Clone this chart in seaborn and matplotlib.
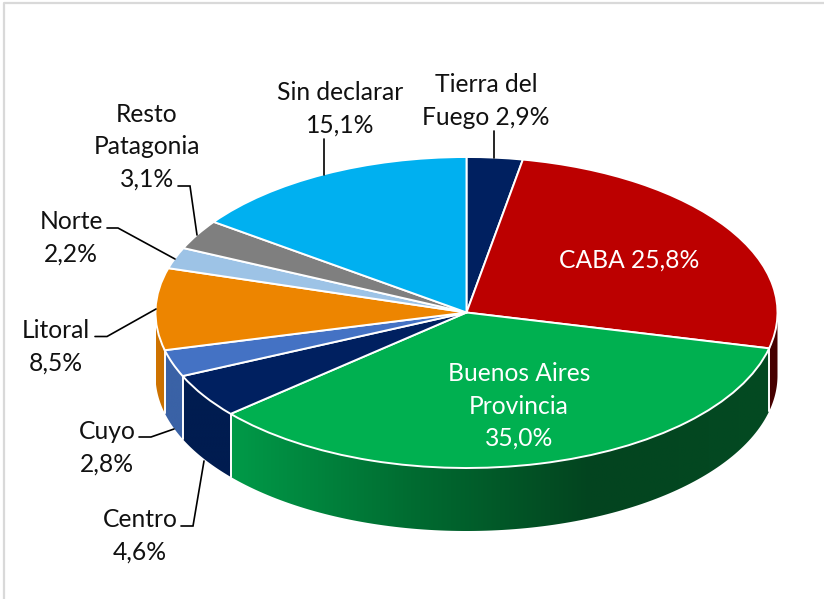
import matplotlib
matplotlib.use("Agg")
import matplotlib.pyplot as plt
import numpy as np
import seaborn as sns
from matplotlib.lines import Line2D
from matplotlib.patches import Polygon
from matplotlib.transforms import Affine2D

# valores
regiones = ["Tierra del Fuego", "CABA", "Buenos Aires Provincia", "Centro", "Cuyo",
            "Litoral", "Norte", "Resto Patagonia", "Sin declarar"]
valores = [2.9, 25.8, 35.0, 4.6, 2.8, 8.5, 2.2, 3.1, 15.1]
etiquetas = ["Tierra del\nFuego 2,9%", "CABA 25,8%", "Buenos Aires\nProvincia\n35,0%",
             "Centro\n4,6%", "Cuyo\n2,8%", "Litoral\n8,5%", "Norte\n2,2%",
             "Resto\nPatagonia\n3,1%", "Sin declarar\n15,1%"]

colores = ["#002060", "#BC0000", "#00B050", "#002060", "#4472C4",
           "#ED8500", "#9DC3E6", "#7F7F7F", "#00B0F0"]
# degradado del lateral, de izquierda a derecha
laterales = [["#001C50", "#001C50"], ["#470000", "#470000"],
             ["#009A48", "#006C31", "#03441F", "#034A22"],
             ["#001C50", "#001C50"], ["#3A62A6", "#3A62A6"],
             ["#D07400", "#C56E00"], ["#8AABCA", "#8AABCA"],
             ["#6E6E6E", "#6E6E6E"], ["#0098D0", "#0098D0"]]

# posicion de cada texto en pixeles (centro x, centro y) y color
pos_texto = [(486, 101), (629, 260), (519, 406), (140, 536), (107, 448),
             (56, 347), (71, 238), (147, 147), (340, 109)]
color_texto = ["#111111", "white", "white", "#111111", "#111111",
               "#111111", "#111111", "#111111", "#111111"]
guias = [[(494, 131), (494, 158)],
         [(181, 526), (193, 526), (204, 461)],
         [(139, 437), (151, 437), (174, 429)],
         [(95, 336.5), (107, 336.5), (156, 309)],
         [(107, 228), (118, 228), (175, 259)],
         [(178, 186), (190, 186), (197, 235)],
         [(324, 139), (324, 175)]]

W, H = 824, 599
cx, cy, rx, ry, prof = 466.5, 312.5, 311.0, 155.5, 63.0

sns.set_theme(style="white")
plt.rcParams["font.family"] = ["Lato", "DejaVu Sans"]

fig, ax = plt.subplots(figsize=(W / 100, H / 100), dpi=100)
ax.set_position([0, 0, 1, 1])
px = Affine2D().scale(1, -1).translate(0, H)

# cara superior
ax.pie(valores, colors=colores, startangle=90, counterclock=False, radius=1,
       wedgeprops={"edgecolor": "white", "linewidth": 1.4, "zorder": 3})

# lateral: degradado recortado a la parte frontal de cada porcion
fracs = np.array(valores) / sum(valores)
limites = np.concatenate([[0], np.cumsum(fracs)]) * 2 * np.pi
frente = (np.pi / 2, 3 * np.pi / 2)
d = prof / ry
for i in range(len(valores)):
    t0, t1 = max(limites[i], frente[0]), min(limites[i + 1], frente[1])
    if t1 <= t0:
        continue
    ts = np.linspace(t0, t1, 120)
    xs, ys = np.sin(ts), np.cos(ts)
    contorno = np.vstack([np.column_stack([xs, ys]), np.column_stack([xs, ys - d])[::-1]])
    pal = np.array(sns.blend_palette(laterales[i], 256))[:, :3]
    im = ax.imshow(pal[np.newaxis, :, :], extent=(xs.min(), xs.max(), (ys - d).min(), ys.max()),
                   aspect="auto", interpolation="bilinear", zorder=1)
    poly = Polygon(contorno, closed=True, transform=ax.transData, fc="none", ec="none")
    ax.add_patch(poly)
    im.set_clip_path(poly)
    for t in (limites[i], limites[i + 1]):
        if frente[0] < t < frente[1]:
            ax.plot([np.sin(t)] * 2, [np.cos(t), np.cos(t) - d], color="white", lw=1.2, zorder=2)

ax.set_aspect("auto")
ax.set_xlim(-cx / rx, (W - cx) / rx)
ax.set_ylim(-(H - cy) / ry, cy / ry)

for txt, (x, y), c in zip(etiquetas, pos_texto, color_texto):
    ax.text(x, y, txt, transform=px, ha="center", va="center", color=c,
            fontsize=17.7, linespacing=1.48, zorder=5)

for g in guias:
    xs, ys = zip(*g)
    ax.plot(xs, ys, transform=px, color="black", lw=1.2, zorder=4, solid_joinstyle="miter")

# marco gris del recuadro
fig.add_artist(Line2D([4, 4, W], [H, 2.5, 2.5], transform=px, color="#D9D9D9", lw=1.6))

fig.savefig("out.png", dpi=100, facecolor="white")
